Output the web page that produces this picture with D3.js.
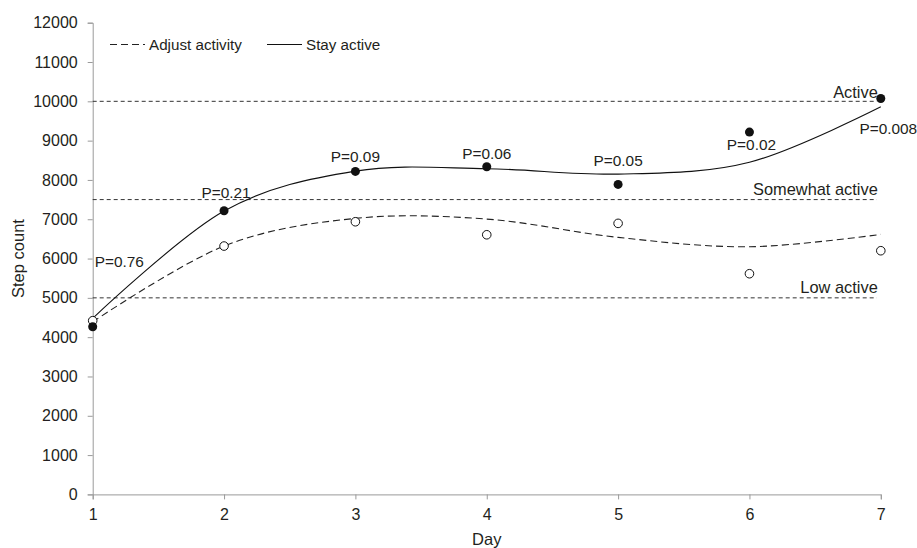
<!DOCTYPE html>
<html>
<head>
<meta charset="utf-8">
<script src="https://cdn.jsdelivr.net/npm/d3@7"></script>
<style>
  body { margin: 0; background: #fff; }
  svg text { font-family: "Liberation Sans", Arial, Helvetica, sans-serif; fill: #231f20; }
  .axis path, .axis line { stroke: #9a9a9a; }
</style>
</head>
<body>
<div id="chart"></div>
<script>
// data
var days = [1, 2, 3, 4, 5, 6, 7]
var stayActive = [4266, 7216, 8217, 8335, 7887, 9217, 10073]
var adjustActivity = [4419, 6318, 6936, 6605, 6895, 5614, 6199]

// fitted trend values per day (drawn as a smoothed line)
var stayTrend = [4480, 7208, 8225, 8285, 8149, 8450, 9860]
var adjustTrend = [4390, 6318, 7022, 7004, 6538, 6300, 6615]

var pLabels = ["P=0.76", "P=0.21", "P=0.09", "P=0.06", "P=0.05", "P=0.02", "P=0.008"]

var levelValues = [10000, 7500, 5000]
var levelNames = ["Active", "Somewhat active", "Low active"]

var yTicks = [0, 1000, 2000, 3000, 4000, 5000, 6000, 7000, 8000, 9000, 10000, 11000, 12000]

var width = 917, height = 548

var svg = d3.select("#chart")
  .append("svg")
  .attr("width", width)
  .attr("height", height)

var x = d3.scaleLinear().domain([1, 7]).range([92.7, 880.8])
var y = d3.scaleLinear().domain([0, 12000]).range([494.4, 22.7])

// axes
var xAxis = svg.append("g")
  .attr("class", "axis")
  .attr("transform", "translate(0," + y(0) + ")")
  .call(d3.axisBottom(x).tickValues(days).tickFormat(d3.format("d")).tickSizeOuter(0).tickSize(5).tickPadding(9))
xAxis.selectAll("text").style("font-size", "16px").style("fill", "#231f20")

var yAxis = svg.append("g")
  .attr("class", "axis")
  .attr("transform", "translate(" + x(1) + ",0)")
  .call(d3.axisLeft(y).tickValues(yTicks).tickFormat(d3.format("d")).tickSizeOuter(0).tickSize(5).tickPadding(10))
yAxis.selectAll("text").style("font-size", "16px").style("fill", "#231f20")

svg.append("text")
  .attr("x", (x(1) + x(7)) / 2)
  .attr("y", 539)
  .attr("dy", "0.35em")
  .attr("text-anchor", "middle")
  .style("font-size", "16.5px")
  .text("Day")

svg.append("text")
  .attr("transform", "translate(18," + (y(0) + y(12000)) / 2 + ") rotate(-90)")
  .attr("dy", "0.35em")
  .attr("text-anchor", "middle")
  .style("font-size", "16.5px")
  .text("Step count")

// activity level reference lines
svg.append("g")
  .selectAll("line")
  .data(levelValues)
  .enter()
  .append("line")
  .attr("x1", x(1))
  .attr("x2", x(7) - 4)
  .attr("y1", function(d) { return y(d) })
  .attr("y2", function(d) { return y(d) })
  .attr("stroke", "#333")
  .attr("stroke-width", 1)
  .attr("stroke-dasharray", "4,3")

var levelDy = [-9, -10.3, -10.5]
svg.append("g")
  .selectAll("text")
  .data(levelNames)
  .enter()
  .append("text")
  .attr("x", x(7) - 3)
  .attr("y", function(d, i) { return y(levelValues[i]) + levelDy[i] })
  .attr("dy", "0.35em")
  .attr("text-anchor", "end")
  .style("font-size", "16.4px")
  .text(function(d) { return d })

// trend lines
var line = d3.line()
  .x(function(d) { return x(d[0]) })
  .y(function(d) { return y(d[1]) })
  .curve(d3.curveCardinal.tension(0))

svg.append("path")
  .datum(d3.zip(days, adjustTrend))
  .attr("d", line)
  .attr("fill", "none")
  .attr("stroke", "#222")
  .attr("stroke-width", 1.1)
  .attr("stroke-dasharray", "7,4")

svg.append("path")
  .datum(d3.zip(days, stayTrend))
  .attr("d", line)
  .attr("fill", "none")
  .attr("stroke", "#111")
  .attr("stroke-width", 1.1)

// points
svg.append("g")
  .selectAll("circle")
  .data(d3.zip(days, adjustActivity))
  .enter()
  .append("circle")
  .attr("cx", function(d) { return x(d[0]) })
  .attr("cy", function(d) { return y(d[1]) })
  .attr("r", 4.3)
  .attr("fill", "#fff")
  .attr("stroke", "#111")
  .attr("stroke-width", 1)

svg.append("g")
  .selectAll("circle")
  .data(d3.zip(days, stayActive))
  .enter()
  .append("circle")
  .attr("cx", function(d) { return x(d[0]) })
  .attr("cy", function(d) { return y(d[1]) })
  .attr("r", 4.5)
  .attr("fill", "#111")

// p values, placed relative to the stay active points
var pOffsets = [[2, -65, "start"], [2, -18.5, "middle"], [0, -14.6, "middle"], [0, -13.4, "middle"],
                [0, -24, "middle"], [2, 13, "middle"], [7.5, 30, "middle"]]
svg.append("g")
  .selectAll("text")
  .data(pLabels)
  .enter()
  .append("text")
  .attr("x", function(d, i) { return x(days[i]) + pOffsets[i][0] })
  .attr("y", function(d, i) { return y(stayActive[i]) + pOffsets[i][1] })
  .attr("dy", "0.35em")
  .attr("text-anchor", function(d, i) { return pOffsets[i][2] })
  .style("font-size", "15.4px")
  .text(function(d) { return d })

// legend
var legend = svg.append("g")
legend.append("line")
  .attr("x1", 110).attr("x2", 145).attr("y1", 44.5).attr("y2", 44.5)
  .attr("stroke", "#222").attr("stroke-width", 1.1).attr("stroke-dasharray", "7,4")
legend.append("text")
  .attr("x", 149).attr("y", 44.5).attr("dy", "0.35em")
  .style("font-size", "15.2px")
  .text("Adjust activity")
legend.append("line")
  .attr("x1", 267).attr("x2", 302).attr("y1", 44.5).attr("y2", 44.5)
  .attr("stroke", "#111").attr("stroke-width", 1.1)
legend.append("text")
  .attr("x", 306).attr("y", 44.5).attr("dy", "0.35em")
  .style("font-size", "15.2px")
  .text("Stay active")
</script>
</body>
</html>
